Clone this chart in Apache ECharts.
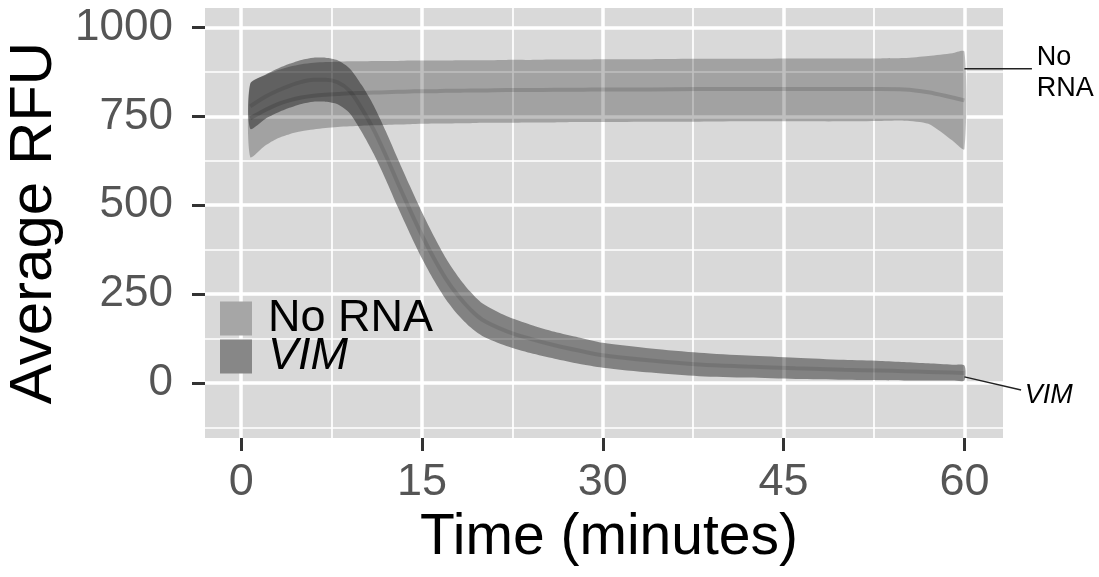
<!DOCTYPE html>
<html>
<head>
<meta charset="utf-8">
<script src="https://cdn.jsdelivr.net/npm/echarts@6/dist/echarts.min.js"></script>
<style>
html,body{margin:0;padding:0;background:#fff;}
#c{width:1099px;height:577px;}
</style>
</head>
<body>
<div id="c"></div>
<script>
// ---- data ----
var time = [0.75, 2, 3, 4, 5, 6, 7, 8, 9, 10, 11, 12, 13, 14, 15, 16, 17, 18, 19, 20, 22, 24, 26, 28, 30, 34, 38, 42, 46, 50, 53, 55, 57, 59, 60];

var noRnaLower = [636, 668, 688, 700, 708, 713, 717, 720, 722, 724, 725, 726, 727, 728, 729, 730, 730, 731, 731, 732, 732, 733, 733, 734, 734, 735, 735, 736, 736, 736, 737, 738, 729, 682, 658];
var noRnaUpper = [842, 866, 880, 890, 897, 901, 903, 904, 905, 905, 906, 906, 906, 907, 907, 907, 907, 908, 908, 908, 909, 909, 910, 910, 911, 911, 912, 912, 913, 913, 913, 914, 920, 928, 932];
var noRnaMean  = [745, 768, 784, 795, 803, 808, 811, 813, 815, 816, 817, 818, 819, 820, 821, 821, 822, 822, 823, 823, 824, 824, 825, 825, 826, 826, 827, 827, 827, 827, 827, 826, 818, 803, 795];

var vimLower = [715, 743, 760, 774, 785, 791, 791, 784, 759, 706, 644, 572, 494, 420, 350, 288, 234, 191, 157, 132, 104, 84, 68, 54, 43, 29, 19, 15, 11, 9, 8, 7, 7, 7, 7];
var vimUpper = [841, 867, 884, 898, 909, 915, 915, 908, 885, 838, 780, 708, 630, 554, 480, 412, 350, 299, 257, 224, 188, 164, 144, 128, 113, 97, 85, 77, 71, 65, 62, 59, 55, 51, 49];
var vimMean  = [778, 805, 822, 836, 847, 853, 853, 846, 822, 772, 712, 640, 562, 487, 415, 350, 292, 245, 207, 178, 146, 124, 106, 91, 78, 63, 52, 46, 41, 37, 35, 33, 31, 29, 28];

var xTicks = [0, 15, 30, 45, 60];
var yTicks = [0, 250, 500, 750, 1000];
var xMinor = [7.5, 22.5, 37.5, 52.5];
var yMinor = [-125, 125, 375, 625, 875];

var seriesNames = ['No RNA', 'VIM'];

// ---- build ----
function pairs(arr){ return time.map(function(t,i){ return [t, arr[i]]; }); }
function triples(lo, up){ return time.map(function(t,i){ return [t, lo[i], up[i]]; }); }

var FONT = 'Liberation Sans, Arial, Helvetica, sans-serif';
var chart = echarts.init(document.getElementById('c'), null, {renderer:'canvas'});

var gridLines = [];
yTicks.forEach(function(v){ gridLines.push({yAxis:v, lineStyle:{width:3.5}}); });
yMinor.forEach(function(v){ gridLines.push({yAxis:v, lineStyle:{width:1.7}}); });
xTicks.forEach(function(v){ gridLines.push({xAxis:v, lineStyle:{width:3.5}}); });
xMinor.forEach(function(v){ gridLines.push({xAxis:v, lineStyle:{width:1.7}}); });

function ribbon(color){
  return function(params, api){
    if (params.dataIndex !== 0) return null;
    var top = [], bot = [];
    for (var i = 0; i < time.length; i++) {
      top.push(api.coord([api.value(0, i), api.value(2, i)]));
      bot.push(api.coord([api.value(0, i), api.value(1, i)]));
    }
    var pts = top.concat(bot.reverse());
    return {type:'polygon', shape:{points:pts, smooth:0.25}, style:{fill:color}};
  };
}

var option = {
  animation:false,
  backgroundColor:'#ffffff',
  textStyle:{fontFamily:FONT},
  grid:{left:205, right:96, top:8, bottom:139, show:true, backgroundColor:'#d9d9d9', borderWidth:0,
        containLabel:false, outerBoundsMode:'none'},
  xAxis:{
    type:'value', min:-3, max:63.2,
    splitLine:{show:false}, axisLine:{show:false, onZero:false},
    axisTick:{show:true, length:13, lineStyle:{color:'#333', width:3}, customValues:xTicks},
    axisLabel:{fontSize:45, color:'#555', margin:22, fontFamily:FONT, customValues:xTicks,
               formatter:function(v){ return String(v); }},
    name:'Time (minutes)', nameLocation:'middle', nameGap:66,
    nameTextStyle:{fontSize:57, color:'#000', fontFamily:FONT, padding:[0,0,0,10]}
  },
  yAxis:{
    type:'value', min:-155, max:1055,
    splitLine:{show:false}, axisLine:{show:false, onZero:false},
    axisTick:{show:true, length:13, lineStyle:{color:'#333', width:3}, customValues:yTicks},
    axisLabel:{fontSize:44, color:'#555', margin:32, fontFamily:FONT, customValues:yTicks,
               formatter:function(v){ return String(v); }},
    name:'Average RFU', nameLocation:'middle', nameGap:101, nameRotate:90,
    nameTextStyle:{fontSize:60, color:'#000', fontFamily:FONT}
  },
  legend:[
    { orient:'vertical', left:215, top:291, itemWidth:32, itemHeight:34, icon:'rect', selectedMode:false,
      data:[{name:seriesNames[0], itemStyle:{color:'#a6a6a6'}}],
      textStyle:{fontSize:45, color:'#000', fontFamily:FONT, padding:[0,0,0,11]} },
    { orient:'vertical', left:215, top:329, itemWidth:32, itemHeight:34, icon:'rect', selectedMode:false,
      data:[{name:seriesNames[1], itemStyle:{color:'#878787'}}],
      textStyle:{fontSize:45, color:'#000', fontFamily:FONT, fontStyle:'italic', padding:[0,0,0,11]} }
  ],
  series:[
    { type:'line', name:'grid', data:[], silent:true, z:1,
      markLine:{ silent:true, symbol:['none','none'], z:1, label:{show:false},
        lineStyle:{color:'#ffffff', type:'solid'}, data:gridLines } },
    { type:'custom', name:seriesNames[0], data:triples(noRnaLower, noRnaUpper), encode:{x:0, y:[1,2]},
      renderItem:ribbon('rgba(0,0,0,0.25)'), itemStyle:{color:'#a6a6a6'}, z:3, silent:true },
    { type:'custom', name:seriesNames[1], data:triples(vimLower, vimUpper), encode:{x:0, y:[1,2]},
      renderItem:ribbon('rgba(0,0,0,0.40)'), itemStyle:{color:'#878787'}, z:3, silent:true },
    { type:'line', name:'noMean', data:pairs(noRnaMean), symbol:'none', smooth:0.35, lineStyle:{color:'rgba(0,0,0,0.14)', width:4}, z:4, silent:true },
    { type:'line', name:'vimMean', data:pairs(vimMean), symbol:'none', smooth:0.35, lineStyle:{color:'rgba(0,0,0,0.10)', width:4}, z:4, silent:true }
  ]
};
chart.setOption(option);

// annotations positioned through the chart's own scales
function px(x, y){ return chart.convertToPixel({gridIndex:0}, [x, y]); }
var a1 = px(60, 884), a2 = px(65.6, 884);
var b1 = px(60, 17), b2 = px(64.7, -20);
var t1 = px(66.0, 872), t2 = px(65.0, -34);
chart.setOption({
  graphic:[
    {type:'line', shape:{x1:a1[0], y1:a1[1], x2:a2[0], y2:a2[1]}, style:{stroke:'#222', lineWidth:1.5}, z:10},
    {type:'line', shape:{x1:b1[0], y1:b1[1], x2:b2[0], y2:b2[1]}, style:{stroke:'#222', lineWidth:1.5}, z:10},
    {type:'text', x:t1[0], y:t1[1], style:{text:'No\nRNA', fontSize:27, lineHeight:31, fontFamily:FONT, fill:'#000', align:'left', verticalAlign:'middle'}, z:10},
    {type:'text', x:t2[0], y:t2[1], style:{text:'VIM', fontSize:27, fontStyle:'italic', fontFamily:FONT, fill:'#000', align:'left', verticalAlign:'middle'}, z:10}
  ]
});
</script>
</body>
</html>
